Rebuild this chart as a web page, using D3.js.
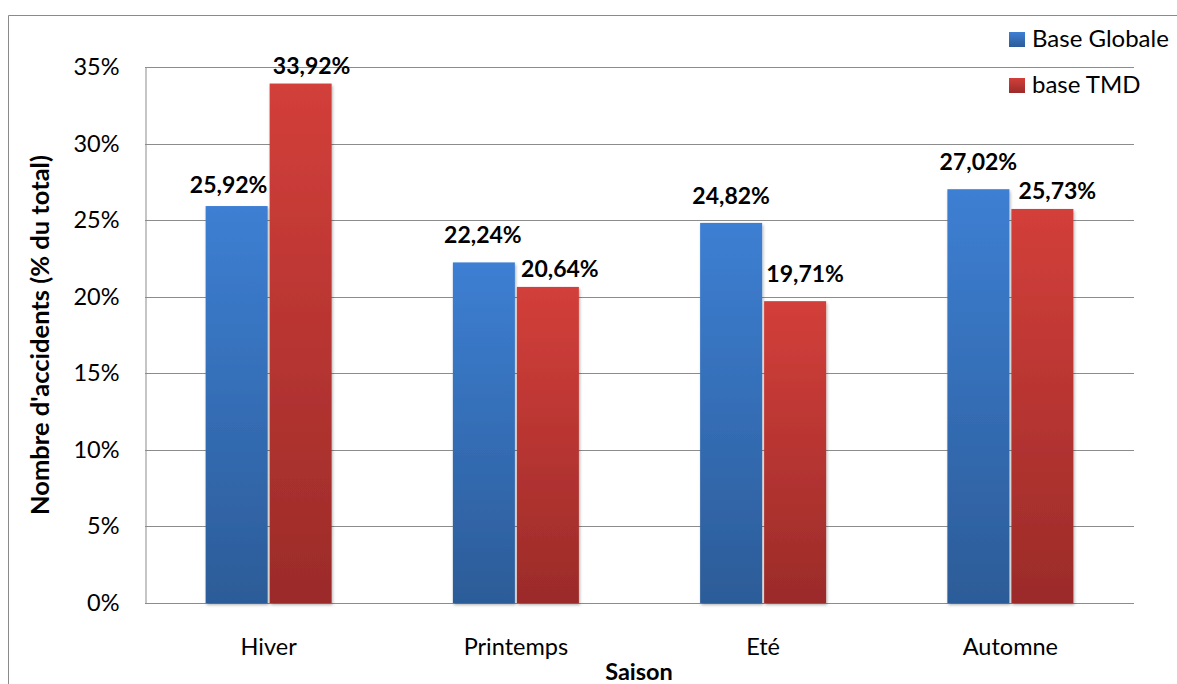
<!DOCTYPE html>
<html>
<head>
<meta charset="utf-8">
<script src="https://cdn.jsdelivr.net/npm/d3@7"></script>
<style>
  html, body { margin: 0; padding: 0; background: #fff; }
  svg { display: block; font-family: Lato, "Open Sans", sans-serif; }
</style>
</head>
<body>
<svg id="chart" width="1177" height="684"></svg>
<script>
// Seasonal share of accidents, global base vs TMD base
const seasons = ["Hiver", "Printemps", "Eté", "Automne"];
const seriesNames = ["Base Globale", "base TMD"];
const baseGlobale = [25.92, 22.24, 24.82, 27.02];
const baseTMD = [33.92, 20.64, 19.71, 25.73];
const yTicks = [0, 5, 10, 15, 20, 25, 30, 35];

const svg = d3.select("#chart");
const W = 1177, H = 684;
const plot = { left: 145, top: 67, right: 1134, bottom: 603 };
const FS = 23.5;

const defs = svg.append("defs");
const grads = [
  { id: "gBlue", top: "#3d7fd3", bottom: "#2c5c98" },
  { id: "gRed", top: "#d33f3a", bottom: "#9b2b29" }
];
grads.forEach(g => {
  const lg = defs.append("linearGradient").attr("id", g.id)
    .attr("x1", 0).attr("y1", 0).attr("x2", 0).attr("y2", 1);
  lg.append("stop").attr("offset", "0%").attr("stop-color", g.top);
  lg.append("stop").attr("offset", "100%").attr("stop-color", g.bottom);
});
const shadow = defs.append("filter").attr("id", "barShadow")
  .attr("x", "-10%").attr("y", "-10%").attr("width", "130%").attr("height", "130%");
shadow.append("feDropShadow").attr("dx", 1).attr("dy", 2).attr("stdDeviation", 1.5)
  .attr("flood-color", "#000").attr("flood-opacity", 0.3);

// outer chart frame (only left and top edges are visible)
svg.append("path")
  .attr("d", `M8.5,${H} V15.5 H${W}`)
  .attr("fill", "none").attr("stroke", "#8a8a8a").attr("stroke-width", 1);

const x = d3.scaleBand().domain(seasons).range([plot.left, plot.right]);
const y = d3.scaleLinear().domain([0, 35]).range([plot.bottom, plot.top]);

// horizontal gridlines
svg.append("g").selectAll("line").data(yTicks).join("line")
  .attr("x1", plot.left).attr("x2", plot.right)
  .attr("y1", d => Math.round(y(d)) + 0.5).attr("y2", d => Math.round(y(d)) + 0.5)
  .attr("stroke", "#8c8c8c").attr("stroke-width", 1);

// y axis
const yAxis = d3.axisLeft(y).tickValues(yTicks).tickFormat(d => d + "%").tickSize(0).tickPadding(26);
const gy = svg.append("g").attr("transform", `translate(${plot.left + 0.5},0)`).call(yAxis);
gy.select(".domain").attr("stroke", "#8c8c8c");
gy.selectAll("text").attr("font-size", FS).attr("fill", "#000")
  .attr("font-family", "Lato, sans-serif");

// x axis labels
const xAxis = d3.axisBottom(x).tickSize(0);
const gx = svg.append("g").attr("transform", `translate(0,${plot.bottom})`).call(xAxis);
gx.select(".domain").remove();
gx.selectAll("text").attr("y", 52).attr("dy", 0).attr("font-size", FS).attr("fill", "#000")
  .attr("font-family", "Lato, sans-serif");

// bars
const barW = 62, gap = 2;
const series = [baseGlobale, baseTMD];
const fills = ["url(#gBlue)", "url(#gRed)"];
const barCenter = (i, si) => x(seasons[i]) + x.bandwidth() / 2 + (si === 0 ? -barW / 2 - gap / 2 : barW / 2 + gap / 2);
series.forEach((vals, si) => {
  svg.append("g").selectAll("rect").data(vals).join("rect")
    .attr("x", (d, i) => barCenter(i, si) - barW / 2)
    .attr("y", d => y(d))
    .attr("width", barW)
    .attr("height", d => y(0) - y(d))
    .attr("fill", fills[si])
    .attr("filter", "url(#barShadow)");
});

// value labels above bars; nudges keep neighbouring labels apart
const labelNudge = [
  [[-8, 13], [-1, 19], [0, 19], [0, 19]],
  [[11, 10], [12, 10], [10, 19], [15, 10]]
];
const fmt = v => v.toFixed(2).replace(".", ",") + "%";
series.forEach((vals, si) => {
  svg.append("g").selectAll("text").data(vals).join("text")
    .attr("x", (d, i) => barCenter(i, si) + labelNudge[si][i][0])
    .attr("y", (d, i) => y(d) - labelNudge[si][i][1])
    .attr("text-anchor", "middle")
    .attr("font-size", 23).attr("font-weight", "bold").attr("fill", "#000")
    .text(fmt);
});

// axis titles
svg.append("text")
  .attr("transform", `translate(49,${(plot.top + plot.bottom) / 2}) rotate(-90)`)
  .attr("text-anchor", "middle")
  .attr("font-size", 25.5).attr("font-weight", "bold")
  .text("Nombre d'accidents (% du total)");
svg.append("text")
  .attr("x", 639).attr("y", 680)
  .attr("text-anchor", "middle")
  .attr("font-size", FS).attr("font-weight", "bold")
  .text("Saison");

// legend
const legend = svg.append("g");
seriesNames.forEach((name, i) => {
  const ly = 32 + i * 46;
  legend.append("rect").attr("x", 1009).attr("y", ly).attr("width", 16).attr("height", 15)
    .attr("fill", fills[i]);
  legend.append("text").attr("x", 1032).attr("y", ly + 15)
    .attr("font-size", 24).attr("fill", "#000").text(name);
});
</script>
</body>
</html>
